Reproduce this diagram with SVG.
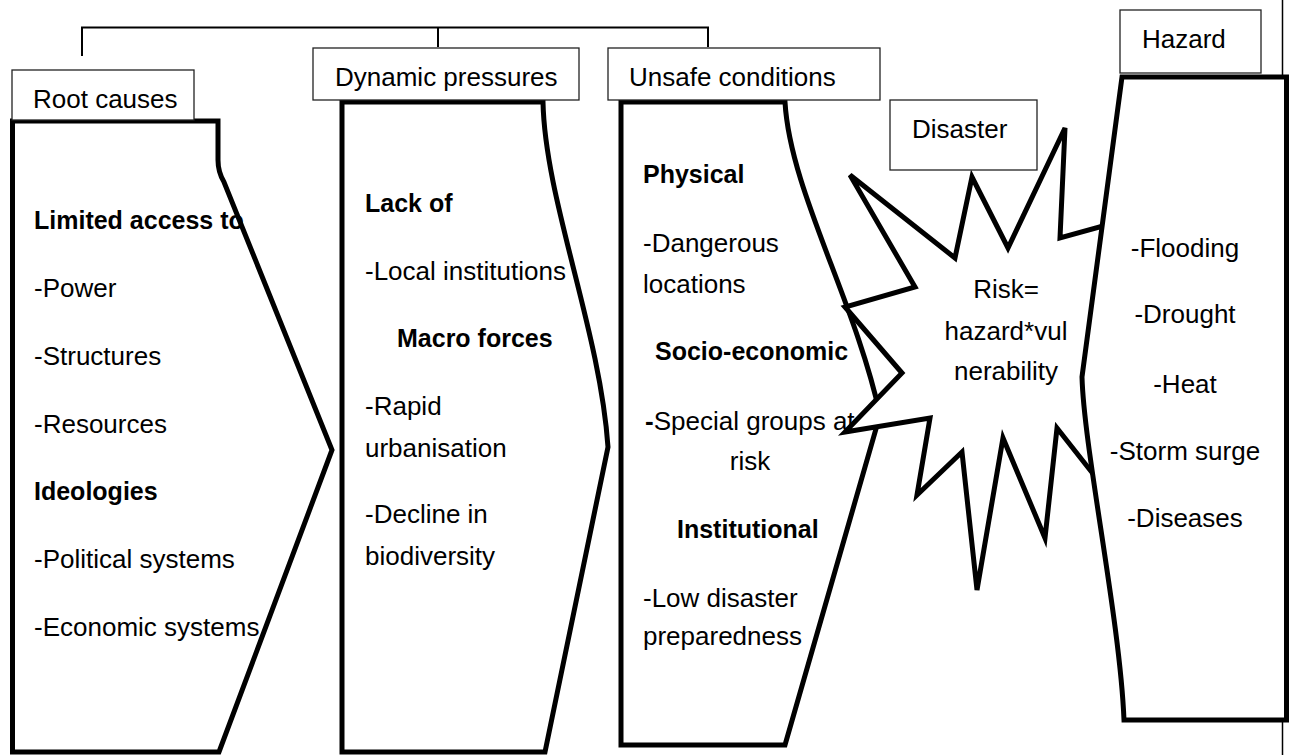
<svg xmlns="http://www.w3.org/2000/svg" width="1291" height="755" viewBox="0 0 1291 755">
<style>
text{font-family:"Liberation Sans",Arial,sans-serif;fill:#000}
.r{font-size:26px}
.b{font-size:25px;font-weight:bold}
.m{text-anchor:middle}
.shape{fill:none;stroke:#000;stroke-width:5;stroke-linejoin:miter}
.fill{fill:#fff;stroke:#000;stroke-width:5;stroke-linejoin:miter}
.lbl{fill:#fff;stroke:#222;stroke-width:1.3}
.conn{fill:none;stroke:#000;stroke-width:2}
</style>
<rect width="1291" height="755" fill="#fff"/>
<g id="connectors">
<path class="conn" d="M82,56 V27.5 H708 V47 M438,27.5 V47"/>
<path d="M1282.5,0 V755" stroke="#000" stroke-width="1.5"/>
</g>
<g id="root-causes">
<path class="shape" d="M12.5,121 L218,121 L218,160 Q218,172 224,182 L332,450 L219,752 L12.5,752 Z"/>
<text class="b" x="34" y="229">Limited access to</text>
<text class="r" x="34" y="297">-Power</text>
<text class="r" x="34" y="365">-Structures</text>
<text class="r" x="34" y="433">-Resources</text>
<text class="b" x="34" y="500">Ideologies</text>
<text class="r" x="34" y="568">-Political systems</text>
<text class="r" x="34" y="636">-Economic systems</text>
</g>
<g id="dynamic-pressures">
<path class="shape" d="M342,102 L543,102 C545,200 600,330 608,447 L545,752 L342,752 Z"/>
<text class="b" x="365" y="212">Lack of</text>
<text class="r" x="365" y="280">-Local institutions</text>
<text class="b" x="397" y="347">Macro forces</text>
<text class="r" x="365" y="415">-Rapid</text>
<text class="r" x="365" y="457">urbanisation</text>
<text class="r" x="365" y="523">-Decline in</text>
<text class="r" x="365" y="565">biodiversity</text>
</g>
<g id="unsafe-conditions">
<path class="shape" d="M621,102 L785,102 C790,190 855,300 880,415 L785,745 L621,745 Z"/>
<text class="b" x="643" y="183">Physical</text>
<text class="r" x="643" y="252">-Dangerous</text>
<text class="r" x="643" y="293">locations</text>
<text class="b" x="655" y="360">Socio-economic</text>
<text class="r" x="645" y="430"><tspan font-weight="bold">-</tspan>Special groups at</text>
<text class="r m" x="750" y="470">risk</text>
<text class="b" x="677" y="538">Institutional</text>
<text class="r" x="643" y="607">-Low disaster</text>
<text class="r" x="643" y="645">preparedness</text>
</g>
<g id="disaster">
<path class="fill" d="M850,175 L915,287 L845,307 L902,373 L845,432 L930,418 L917,495 L962,452 L977,590 L1003,438 L1045,538 L1057,428 L1120,508 L1150,420 L1110,330 L1150,213 L1060,238 L1065,128 L1008,248 L972,177 L955,258 Z"/>
<text class="r m" x="1006" y="298">Risk=</text>
<text class="r m" x="1006" y="340">hazard*vul</text>
<text class="r m" x="1006" y="380">nerability</text>
</g>
<g id="hazard">
<path class="fill" d="M1122,77 L1286.5,77 L1286.5,720 L1124,720 C1120,620 1084,450 1082,377 Z"/>
<text class="r m" x="1185" y="257">-Flooding</text>
<text class="r m" x="1185" y="323">-Drought</text>
<text class="r m" x="1185" y="393">-Heat</text>
<text class="r m" x="1185" y="460">-Storm surge</text>
<text class="r m" x="1185" y="527">-Diseases</text>
</g>
<g id="labels">
<g id="label-root"><rect class="lbl" x="12" y="70" width="182" height="50"/><text class="r" x="33" y="108">Root causes</text></g>
<g id="label-dynamic"><rect class="lbl" x="313" y="48" width="266" height="52"/><text class="r" x="335" y="86">Dynamic pressures</text></g>
<g id="label-unsafe"><rect class="lbl" x="608" y="48" width="272" height="52"/><text class="r" x="629" y="86">Unsafe conditions</text></g>
<g id="label-disaster"><rect class="lbl" x="890" y="100" width="147" height="70"/><text class="r" x="912" y="138">Disaster</text></g>
<g id="label-hazard"><rect class="lbl" x="1120" y="10" width="141" height="63"/><text class="r" x="1142" y="48">Hazard</text></g>
</g>
</svg>
